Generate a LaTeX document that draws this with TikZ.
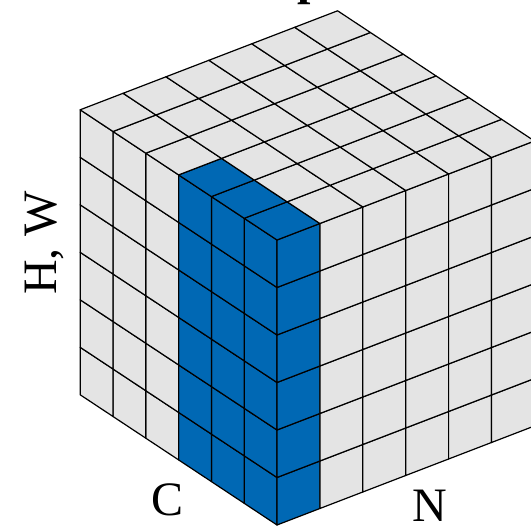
\documentclass[tikz,border=0pt]{standalone}
\usepackage{fontspec}
\setmainfont{Liberation Serif}
\usetikzlibrary{positioning}
\definecolor{gnblue}{RGB}{0,104,180}
\definecolor{cellgrey}{RGB}{228,228,228}

\begin{document}
\begin{tikzpicture}[x=1pt,y=1pt,
  cell/.style={draw=black, line width=1.2pt, line join=round},
  axislbl/.style={font=\fontsize{48}{48}\selectfont, inner sep=0pt}]
\useasboundingbox (0,0) rectangle (531,-526);
\begin{scope}[shift={(277pt,-525pt)}, x={(42.9pt,16.5pt)}, y={(0pt,47.5pt)}, z={(-32.8pt,21.7pt)}]
% C face
\foreach \c in {0,...,5}
  \foreach \h in {0,...,5}{
    \ifnum\c<3 \def\col{gnblue}\else\def\col{cellgrey}\fi
    \filldraw[cell, fill=\col] (0,\h,\c) -- (0,\h,\c+1) -- (0,\h+1,\c+1) -- (0,\h+1,\c) -- cycle;
  }
% N face
\foreach \n in {0,...,5}
  \foreach \h in {0,...,5}{
    \ifnum\n<1 \def\col{gnblue}\else\def\col{cellgrey}\fi
    \filldraw[cell, fill=\col] (\n,\h,0) -- (\n+1,\h,0) -- (\n+1,\h+1,0) -- (\n,\h+1,0) -- cycle;
  }
% top face
\foreach \n in {0,...,5}
  \foreach \c in {0,...,5}{
    \def\col{cellgrey}
    \ifnum\n<1 \ifnum\c<3 \def\col{gnblue}\fi\fi
    \filldraw[cell, fill=\col] (\n,6,\c) -- (\n+1,6,\c) -- (\n+1,6,\c+1) -- (\n,6,\c+1) -- cycle;
  }
\end{scope}
\node (title) [anchor=base, font=\fontsize{48}{48}\selectfont\bfseries] at (323,5) {Group Norm};
\node (hw) [axislbl, rotate=90] at (44,-243) {H, W};
\node (clbl) [axislbl] at (168,-500) {C};
\node (nlbl) [axislbl] at (430,-506) {N};
\end{tikzpicture}
\end{document}
